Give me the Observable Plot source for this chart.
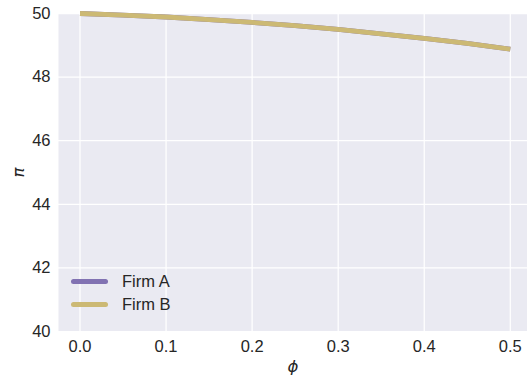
<!DOCTYPE html>
<html>
<head>
<meta charset="utf-8">
<script src="https://cdn.jsdelivr.net/npm/d3@7"></script>
<script src="https://cdn.jsdelivr.net/npm/@observablehq/plot@0.6"></script>
<style>
  html, body { margin: 0; padding: 0; background: #fff; }
  #wrap { position: relative; width: 527px; height: 379px; }
  [aria-label="x-axis label"] text, [aria-label="y-axis label"] text {
    font-style: italic; font-family: "DejaVu Sans", sans-serif;
  }
  #legend { position: absolute; left: 71px; top: 270px; font: 16.5px "Liberation Sans", Arial, sans-serif; color: #262626; }
  #legend .row { display: flex; align-items: center; height: 23px; }
  #legend .sw { width: 37px; height: 5px; border-radius: 2.5px; margin-right: 14px; }
</style>
</head>
<body>
<div id="wrap"></div>
<script>
const phi = [0, 0.05, 0.1, 0.15, 0.2, 0.25, 0.3, 0.35, 0.4, 0.45, 0.5];
const firmA = [50.00, 49.95, 49.89, 49.81, 49.72, 49.62, 49.50, 49.36, 49.22, 49.06, 48.88];
const firmB = [50.00, 49.95, 49.89, 49.81, 49.72, 49.62, 49.50, 49.36, 49.22, 49.06, 48.88];
const seriesNames = ["Firm A", "Firm B"];
const seriesColors = ["#8172B2", "#CCB974"];
const xTicks = [0, 0.1, 0.2, 0.3, 0.4, 0.5];
const yTicks = [40, 42, 44, 46, 48, 50];

const data = [];
[firmA, firmB].forEach((vals, k) => {
  phi.forEach((p, i) => data.push({phi: p, pi: vals[i], firm: seriesNames[k]}));
});

const chart = Plot.plot({
  width: 527,
  height: 379,
  marginLeft: 58,
  marginRight: 0,
  marginTop: 13,
  marginBottom: 48,
  style: {fontFamily: "'Liberation Sans', Arial, sans-serif", fontSize: "16px", color: "#262626", background: "#fff"},
  x: {domain: [-0.025, 0.52]},
  y: {domain: [40, 50]},
  color: {domain: seriesNames, range: seriesColors},
  marks: [
    Plot.frame({fill: "#EAEAF2", stroke: null}),
    Plot.gridX(xTicks, {stroke: "#fff", strokeOpacity: 1, strokeWidth: 1.25}),
    Plot.gridY(yTicks, {stroke: "#fff", strokeOpacity: 1, strokeWidth: 1.25}),
    Plot.axisX(xTicks, {tickSize: 0, tickPadding: 9, tickFormat: d3.format(".1f"), label: "\u03D5", labelAnchor: "center", labelOffset: 40, labelArrow: false, fontSize: 16.5}),
    Plot.axisY(yTicks, {tickSize: 0, tickPadding: 8, label: "π", labelAnchor: "center", labelOffset: 46, labelArrow: false, fontSize: 16.5}),
    Plot.line(data, {x: "phi", y: "pi", z: "firm", stroke: "firm", strokeWidth: 4.8, strokeLinecap: "butt"})
  ]
});
document.getElementById("wrap").appendChild(chart);

const legend = document.createElement("div");
legend.id = "legend";
seriesNames.forEach((n, i) => {
  const row = document.createElement("div");
  row.className = "row";
  const sw = document.createElement("div");
  sw.className = "sw";
  sw.style.background = seriesColors[i];
  const t = document.createElement("span");
  t.textContent = n;
  row.appendChild(sw); row.appendChild(t);
  legend.appendChild(row);
});
document.getElementById("wrap").appendChild(legend);
</script>
</body>
</html>
